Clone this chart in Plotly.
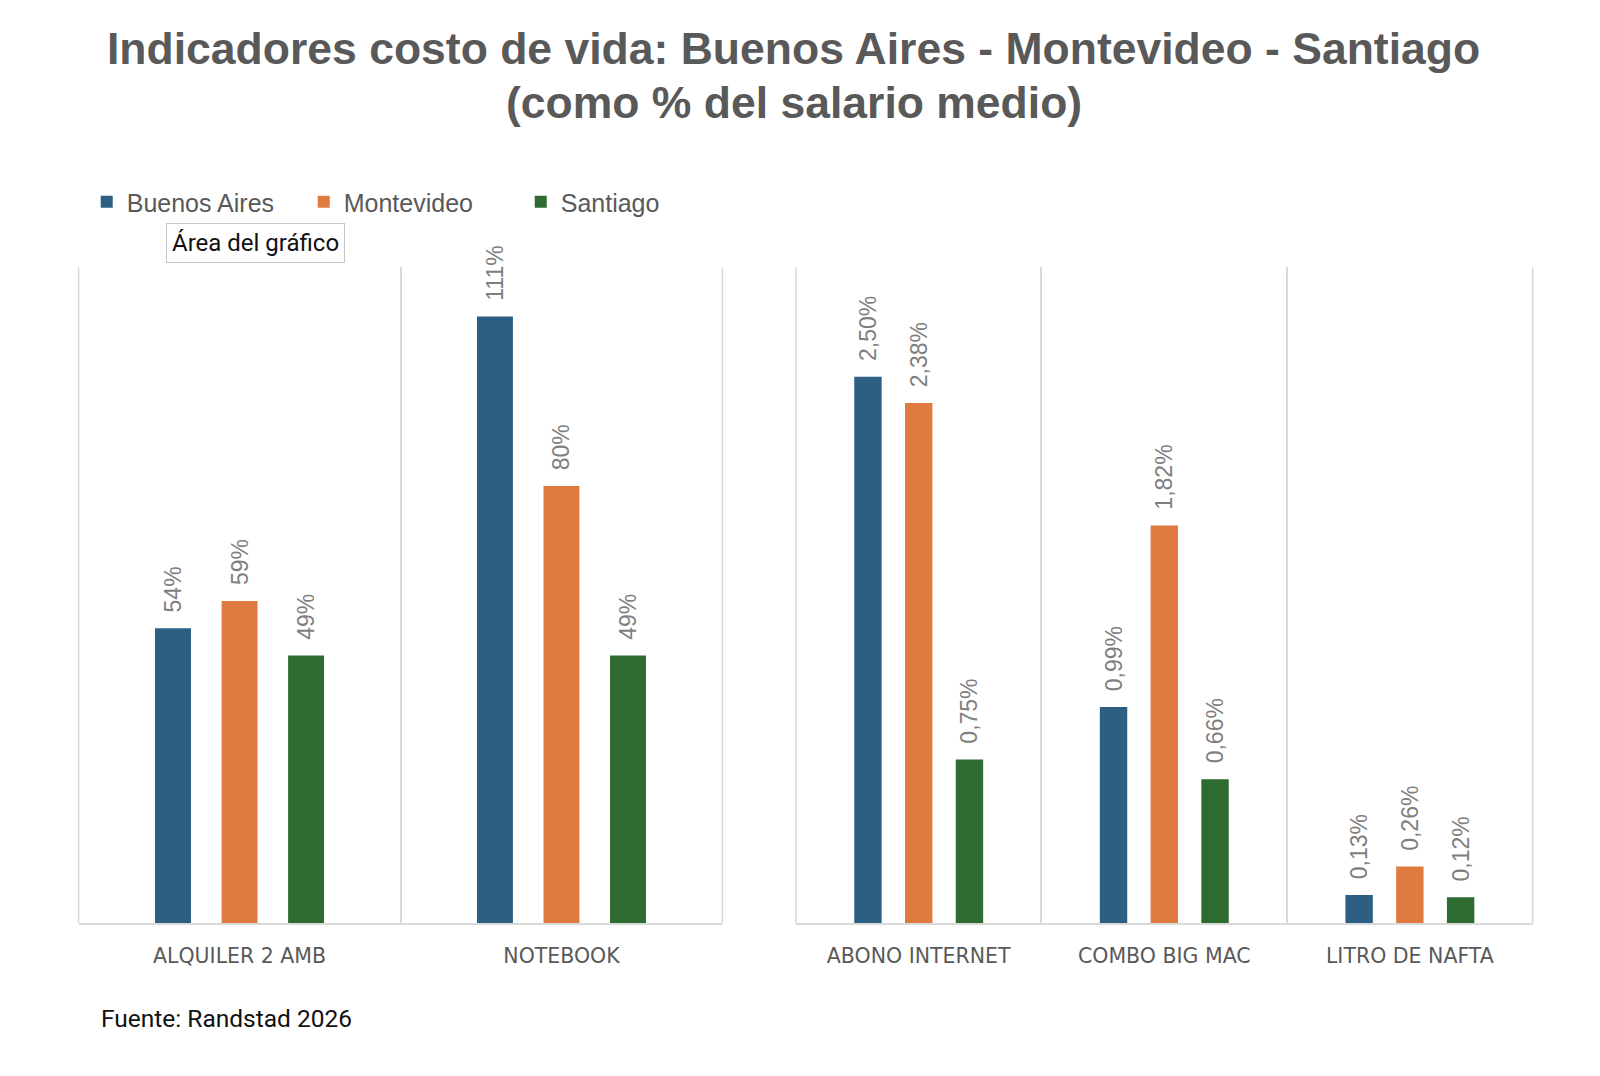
import plotly.graph_objects as go
from plotly.subplots import make_subplots

# datos (como % del salario medio)
cities = ["Buenos Aires", "Montevideo", "Santiago"]
colors = ["#2D5F82", "#DF7B3F", "#2E6B30"]

cats_left = ["ALQUILER 2 AMB", "NOTEBOOK"]
left_vals = {
    "Buenos Aires": [54, 111],
    "Montevideo": [59, 80],
    "Santiago": [49, 49],
}

cats_right = ["ABONO INTERNET", "COMBO BIG MAC", "LITRO DE NAFTA"]
right_vals = {
    "Buenos Aires": [2.50, 0.99, 0.13],
    "Montevideo": [2.38, 1.82, 0.26],
    "Santiago": [0.75, 0.66, 0.12],
}

# la pagina tiene 8px de margen en el body
W, H = 1584, 1060
S = 0.98  # escala de las medidas tomadas sobre la imagen


def fx(d):
    return (d / S - 8) / W


def fy(d):
    return 1 - (d / S - 8) / H


fig = make_subplots(rows=1, cols=2)

label_font = dict(color="#7F7F7F", size=23, family="Liberation Sans")
pad = "\u00a0\u00a0"  # separacion entre la barra y la etiqueta
for city, color in zip(cities, colors):
    fig.add_trace(go.Bar(
        x=cats_left, y=left_vals[city], name=city,
        marker=dict(color=color, line=dict(width=0)),
        texttemplate=pad + "%{y:.0f}%", textposition="outside", textangle=-90,
        textfont=label_font, constraintext="none",
        cliponaxis=False, legendgroup=city,
    ), row=1, col=1)
    fig.add_trace(go.Bar(
        x=cats_right, y=right_vals[city], name=city,
        marker=dict(color=color, line=dict(width=0)),
        texttemplate=pad + "%{y:.2f}%", textposition="outside", textangle=-90,
        textfont=label_font, constraintext="none",
        cliponaxis=False, legendgroup=city, showlegend=False,
    ), row=1, col=2)

axis_common = dict(
    showgrid=True, gridcolor="#D9D9D9", gridwidth=1.5, tickson="boundaries",
    showline=True, linecolor="#D9D9D9", linewidth=1.5,
    ticks="", ticklabelstandoff=13,
    tickfont=dict(size=20.5, color="#595959", family="DejaVu Sans"),
)
fig.update_xaxes(domain=[fx(77), fx(708)], row=1, col=1, **axis_common)
fig.update_xaxes(domain=[fx(780), fx(1502)], row=1, col=2, **axis_common)

yaxis_common = dict(visible=False, showgrid=False, zeroline=False,
                    domain=[fy(905), fy(262)])
fig.update_yaxes(range=[0, 120], row=1, col=1, **yaxis_common)
fig.update_yaxes(range=[0, 3], row=1, col=2, **yaxis_common)

# lineas de borde de cada area de trazado
shapes = []
for xr, yr in [("x domain", "y domain"), ("x2 domain", "y2 domain")]:
    for xv in (0, 1):
        shapes.append(dict(type="line", xref=xr, yref=yr, x0=xv, x1=xv, y0=0, y1=1,
                           line=dict(color="#D9D9D9", width=1.5), layer="below"))

title_font = dict(size=44.5, color="#595959", family="Liberation Sans")
fig.update_layout(
    width=W, height=H,
    margin=dict(l=0, r=0, t=0, b=0),
    paper_bgcolor="white", plot_bgcolor="white",
    separators=",.",
    barmode="group", bargap=0.38, bargroupgap=0.46,
    shapes=shapes,
    legend=dict(
        orientation="h", x=fx(85), xanchor="left", y=fy(198), yanchor="middle",
        font=dict(size=25, color="#595959", family="Liberation Sans"),
        itemwidth=30, traceorder="normal",
        entrywidth=172, entrywidthmode="pixels",
    ),
    annotations=[
        dict(text="<b>Indicadores costo de vida: Buenos Aires - Montevideo - Santiago</b>",
             xref="paper", yref="paper", x=fx(778), y=fy(48),
             xanchor="center", yanchor="middle", showarrow=False, font=title_font),
        dict(text="<b>(como % del salario medio)</b>",
             xref="paper", yref="paper", x=fx(778), y=fy(100),
             xanchor="center", yanchor="middle", showarrow=False, font=title_font),
        dict(text="Área del gráfico", xref="paper", yref="paper",
             x=fx(250), y=fy(238), xanchor="center", yanchor="middle", showarrow=False,
             font=dict(size=24, color="#111111", family="Roboto"),
             bgcolor="white", bordercolor="#C8C8C8", borderwidth=1, borderpad=5),
        dict(text="Fuente: Randstad 2026", xref="paper", yref="paper",
             x=fx(97), y=fy(998), xanchor="left", yanchor="middle",
             showarrow=False,
             font=dict(size=24.5, color="#111111", family="Roboto")),
    ],
)

fig.write_html("out.html")
